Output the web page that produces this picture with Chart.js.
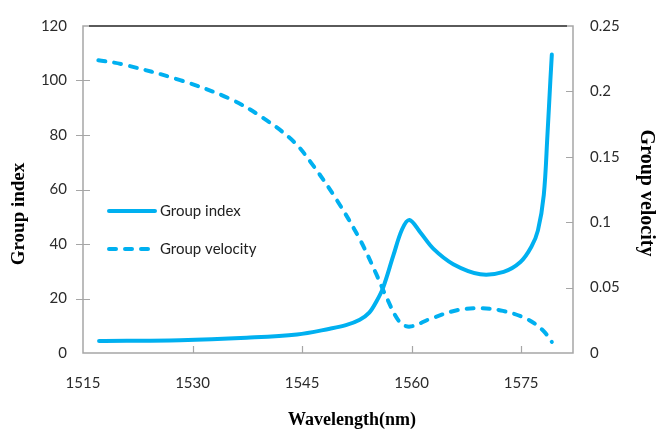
<!DOCTYPE html>
<html>
<head>
<meta charset="utf-8">
<script src="https://cdn.jsdelivr.net/npm/chart.js@4/dist/chart.umd.min.js"></script>
<style>
  html, body { margin: 0; padding: 0; background: #fff; }
  #wrap { width: 656px; height: 432px; position: relative; }
</style>
</head>
<body>
<div id="wrap"><canvas id="c" width="656" height="432"></canvas></div>
<script>
// Group index curve (left axis)
const indexWavelength = [1517.2, 1528.3, 1537.4, 1544.3, 1548.8, 1551.0, 1552.9, 1554.2, 1555.2, 1556.1, 1557.5, 1558.7, 1559.7, 1561.2, 1563.0, 1565.7, 1569.4, 1572.6, 1574.9, 1576.4, 1577.3, 1578.1, 1578.6, 1579.0, 1579.2];
const groupIndex      = [4.4, 4.7, 5.6, 6.8, 8.9, 10.2, 12.2, 14.8, 19.0, 24.0, 35.8, 45.4, 48.8, 44.2, 38.2, 32.6, 28.9, 29.8, 33.4, 39.0, 45.0, 58.0, 80.0, 100.0, 109.5];

// Group velocity curve (right axis)
const velocityWavelength = [1517.1, 1520.5, 1528.3, 1535.1, 1539.7, 1543.8, 1546.3, 1549.75, 1552.9, 1555.2, 1556.6, 1558.4, 1559.8, 1562.5, 1566.2, 1569.4, 1572.5, 1575.8, 1578.0, 1579.2];
const groupVelocity      = [0.2238, 0.2206, 0.2086, 0.1944, 0.1796, 0.1619, 0.1450, 0.1170, 0.0870, 0.0599, 0.0420, 0.0234, 0.0202, 0.0260, 0.0327, 0.0342, 0.0322, 0.0260, 0.0172, 0.0085];

// Tick values
const wavelengthTicks = [1515, 1530, 1545, 1560, 1575];
const indexTicks      = [0, 20, 40, 60, 80, 100, 120];
const velocityTicks   = [0, 0.05, 0.1, 0.15, 0.2, 0.25];

const seriesNames = ['Group index', 'Group velocity'];
const axisTitles  = { x: 'Wavelength(nm)', y: 'Group index', y1: 'Group velocity' };

const BLUE = '#00B0F0';
const AXIS_GRAY = '#A6A6A6';
const TICK_FONT = { family: 'Lato', size: 15 };

function pairs(xs, ys) { return xs.map((x, i) => ({ x: x, y: ys[i] })); }
function fixedTicks(values) { return scale => { scale.ticks = values.map(v => ({ value: v })); }; }

// Frame, tick marks, axis titles and in-plot legend
const decorations = {
  id: 'decorations',
  beforeDatasetsDraw(chart) {
    const { ctx, chartArea: a, scales } = chart;
    ctx.save();
    ctx.strokeStyle = AXIS_GRAY;
    ctx.lineWidth = 1.5;
    ctx.strokeRect(a.left, a.top, a.right - a.left, a.bottom - a.top);
    // darker line along the top edge
    ctx.strokeStyle = '#3a3a3a';
    ctx.lineWidth = 1.5;
    ctx.beginPath();
    ctx.moveTo(a.left + 6, a.top);
    ctx.lineTo(a.right - 6, a.top);
    ctx.stroke();

    ctx.strokeStyle = AXIS_GRAY;
    ctx.lineWidth = 1.2;
    ctx.beginPath();
    scales.x.ticks.forEach(t => {
      const px = Math.round(scales.x.getPixelForValue(t.value)) + 0.5;
      if (px <= a.left + 1) return;
      ctx.moveTo(px, a.bottom); ctx.lineTo(px, a.bottom - 7);
    });
    scales.y.ticks.forEach(t => {
      const py = Math.round(scales.y.getPixelForValue(t.value)) + 0.5;
      if (py <= a.top + 1 || py >= a.bottom - 1) return;
      ctx.moveTo(a.left - 7, py); ctx.lineTo(a.left + 7, py);
    });
    scales.y1.ticks.forEach(t => {
      const py = Math.round(scales.y1.getPixelForValue(t.value)) + 0.5;
      if (py <= a.top + 1 || py >= a.bottom - 1) return;
      ctx.moveTo(a.right, py); ctx.lineTo(a.right - 7, py);
    });
    ctx.stroke();
    ctx.restore();
  },
  afterDraw(chart) {
    const { ctx, chartArea: a } = chart;
    ctx.save();
    ctx.fillStyle = '#000';
    ctx.textAlign = 'center';
    ctx.textBaseline = 'middle';
    ctx.font = 'bold 18px "Liberation Serif"';
    ctx.fillText(axisTitles.x, a.left + 269, a.bottom + 67);

    ctx.save();
    ctx.font = 'bold 19px "Liberation Serif"';
    ctx.translate(19, a.top + 188);
    ctx.rotate(-Math.PI / 2);
    ctx.fillText(axisTitles.y, 0, 0);
    ctx.restore();

    ctx.save();
    ctx.font = 'bold 20px "Liberation Serif"';
    ctx.translate(a.right + 73, a.top + 167);
    ctx.rotate(Math.PI / 2);
    ctx.fillText(axisTitles.y1, 0, 0);
    ctx.restore();

    // legend inside the plot
    const rows = [a.top + 185, a.top + 223];
    chart.data.datasets.forEach((ds, i) => {
      const y = rows[i];
      ctx.strokeStyle = ds.borderColor;
      ctx.lineWidth = ds.borderWidth;
      ctx.lineCap = ds.borderCapStyle;
      ctx.setLineDash(ds.borderDash || []);
      ctx.beginPath();
      ctx.moveTo(a.left + 26, y);
      ctx.lineTo(a.left + 72, y);
      ctx.stroke();
      ctx.setLineDash([]);
      ctx.fillStyle = '#222';
      ctx.font = '15px Lato';
      ctx.textAlign = 'left';
      ctx.fillText(ds.label, a.left + 77, y);
    });
    ctx.restore();
  }
};

new Chart(document.getElementById('c'), {
  type: 'line',
  data: {
    datasets: [
      {
        label: seriesNames[0],
        data: pairs(indexWavelength, groupIndex),
        yAxisID: 'y',
        borderColor: BLUE,
        borderWidth: 4,
        borderCapStyle: 'round',
        borderJoinStyle: 'round',
        pointRadius: 0,
        tension: 0.35,
        fill: false
      },
      {
        label: seriesNames[1],
        data: pairs(velocityWavelength, groupVelocity),
        yAxisID: 'y1',
        borderColor: BLUE,
        borderWidth: 4,
        borderDash: [7, 9],
        borderCapStyle: 'round',
        borderJoinStyle: 'round',
        pointRadius: 0,
        tension: 0.35,
        fill: false
      }
    ]
  },
  options: {
    responsive: false,
    animation: false,
    devicePixelRatio: 1,
    layout: { padding: { top: 19, left: 0, right: 0, bottom: 0 } },
    plugins: { legend: { display: false }, tooltip: { enabled: false } },
    scales: {
      x: {
        type: 'linear',
        min: 1515,
        max: 1582.1,
        afterBuildTicks: fixedTicks(wavelengthTicks),
        afterFit: s => { s.height = 79; },
        grid: { display: false, drawTicks: false },
        border: { display: false },
        ticks: { font: TICK_FONT, color: '#2b2b2b', padding: 21, maxRotation: 0, callback: v => String(v) }
      },
      y: {
        type: 'linear',
        position: 'left',
        min: 0,
        max: 120,
        afterBuildTicks: fixedTicks(indexTicks),
        afterFit: s => { s.width = 83; },
        grid: { display: false, drawTicks: false },
        border: { display: false },
        ticks: { font: TICK_FONT, color: '#2b2b2b', padding: 16, callback: v => String(v) }
      },
      y1: {
        type: 'linear',
        position: 'right',
        min: 0,
        max: 0.25,
        afterBuildTicks: fixedTicks(velocityTicks),
        afterFit: s => { s.width = 83; },
        grid: { display: false, drawTicks: false },
        border: { display: false },
        ticks: { font: TICK_FONT, color: '#2b2b2b', padding: 17, callback: v => String(+v.toFixed(2)) }
      }
    }
  },
  plugins: [decorations]
});
</script>
</body>
</html>
